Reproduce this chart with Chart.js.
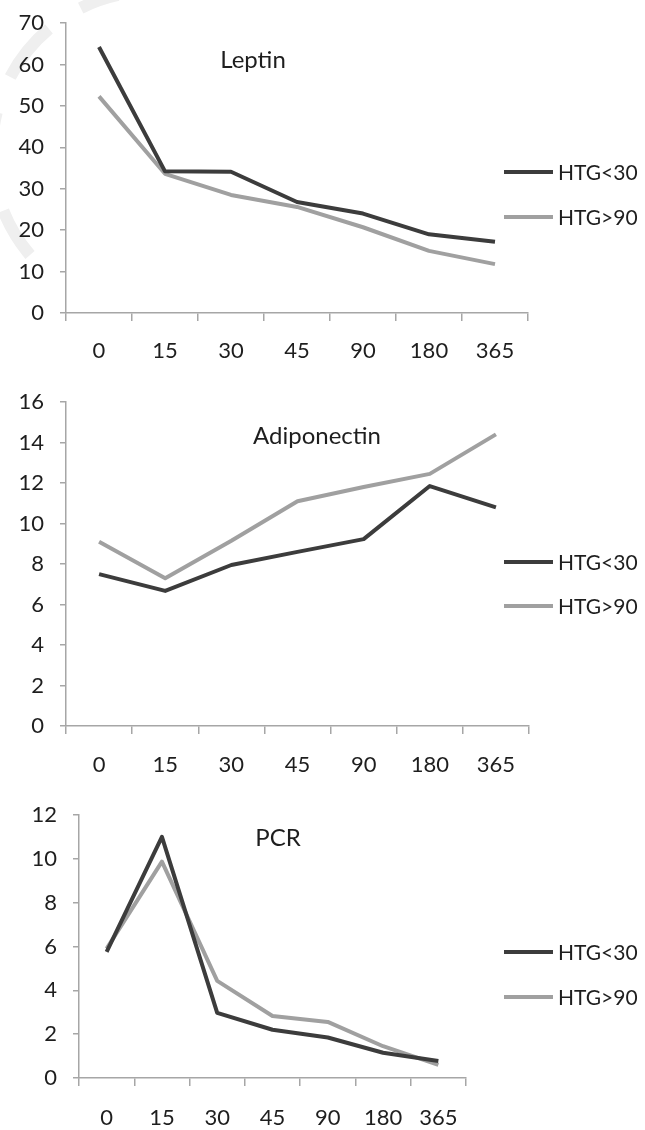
<!DOCTYPE html>
<html>
<head>
<meta charset="utf-8">
<script src="https://cdn.jsdelivr.net/npm/chart.js@4"></script>
<style>
  body { margin: 0; background: #fff; }
  #page { position: relative; width: 645px; height: 1130px; overflow: hidden; }
  #page canvas { position: absolute; left: 0; }
  #mark { position: absolute; left: 0; top: 0; }
</style>
</head>
<body>
<div id="page">
  <svg id="mark" width="200" height="300">
    <path d="M 30,255 A 160 160 0 0 1 118,-5" fill="none" stroke="#efefef" stroke-width="12"
          stroke-dasharray="62 38" stroke-dashoffset="10"/>
  </svg>
  <canvas id="leptinChart" width="645" height="392" style="top:-12px"></canvas>
  <canvas id="adipoChart" width="645" height="410" style="top:367px"></canvas>
  <canvas id="pcrChart" width="645" height="350" style="top:780px"></canvas>
</div>
<script>
// Days after surgery (categories on every x axis)
const days = ['0', '15', '30', '45', '90', '180', '365'];
const seriesNames = ['HTG<30', 'HTG>90'];

// Leptin values
const leptinLow = [64.2, 34.2, 34.1, 26.8, 24.0, 19.0, 17.2];
const leptinHigh = [52.3, 33.6, 28.5, 25.6, 20.7, 15.0, 11.8];

// Adiponectin values
const adipoLow = [7.5, 6.67, 7.95, 8.6, 9.23, 11.85, 10.8];
const adipoHigh = [9.1, 7.3, 9.15, 11.1, 11.8, 12.45, 14.4];

// PCR values
const pcrLow = [5.75, 11.0, 2.97, 2.2, 1.85, 1.15, 0.78];
const pcrHigh = [5.9, 9.87, 4.43, 2.83, 2.56, 1.45, 0.6];

const darkLine = '#3c3c3c';
const lightLine = '#a0a0a0';
const axisGrey = '#a6a6a6';
const textColor = '#1e1e1e';
const fontFamily = 'Lato, "Open Sans", sans-serif';

// Draws the panel name and the legend on the right
const panelText = {
  id: 'panelText',
  afterDraw(chart, args, opts) {
    const ctx = chart.ctx;
    ctx.save();
    ctx.fillStyle = textColor;
    ctx.textBaseline = 'middle';
    ctx.textAlign = 'center';
    ctx.font = '24px ' + fontFamily;
    ctx.fillText(opts.title, opts.titleX, opts.titleY);
    ctx.textAlign = 'left';
    ctx.font = '21px ' + fontFamily;
    chart.data.datasets.forEach((ds, i) => {
      const y = opts.legendY[i];
      ctx.strokeStyle = ds.borderColor;
      ctx.lineWidth = 4;
      ctx.beginPath();
      ctx.moveTo(504, y);
      ctx.lineTo(553, y);
      ctx.stroke();
      ctx.fillText(ds.label, 558, y + 1);
    });
    ctx.restore();
  }
};

function makeChart(canvasId, low, high, yMax, yStep, layout, text) {
  return new Chart(document.getElementById(canvasId), {
    type: 'line',
    data: {
      labels: days,
      datasets: [
        { label: seriesNames[0], data: low, borderColor: darkLine, backgroundColor: darkLine },
        { label: seriesNames[1], data: high, borderColor: lightLine, backgroundColor: lightLine }
      ]
    },
    options: {
      responsive: false,
      animation: false,
      datasets: { line: { borderWidth: 4, pointRadius: 0, tension: 0, borderJoinStyle: 'round' } },
      layout: { padding: { left: 0, top: layout.top, right: layout.right, bottom: layout.bottom } },
      plugins: {
        legend: { display: false },
        tooltip: { enabled: false },
        panelText: text
      },
      scales: {
        x: {
          offset: true,
          grid: { display: true, offset: true, drawOnChartArea: false, tickLength: 8, color: axisGrey, lineWidth: 1.5 },
          border: { color: axisGrey, width: 1.5 },
          ticks: { color: textColor, font: { family: fontFamily, size: 22 }, padding: layout.xPad, maxRotation: 0, autoSkip: false },
          afterFit(scale) { scale.height = 48; }
        },
        y: {
          min: 0,
          max: yMax,
          grid: { display: true, drawOnChartArea: false, tickLength: 6, color: axisGrey, lineWidth: 1.5 },
          border: { color: axisGrey, width: 1.5 },
          ticks: { stepSize: yStep, color: textColor, font: { family: fontFamily, size: 22 }, padding: 16 },
          afterFit(scale) { scale.width = layout.left; }
        }
      }
    },
    plugins: [panelText]
  });
}

// canvas top -12: plot area spans 23..313 on the page
makeChart('leptinChart', leptinLow, leptinHigh, 70, 10,
  { top: 35, right: 117, bottom: 19, left: 66, xPad: 17 },
  { title: 'Leptin', titleX: 253, titleY: 72, legendY: [184, 229] });

// canvas top 367: plot area spans 402..726
makeChart('adipoChart', adipoLow, adipoHigh, 16, 2,
  { top: 35, right: 116, bottom: 3, left: 66, xPad: 18 },
  { title: 'Adiponectin', titleX: 317, titleY: 69, legendY: [195, 239] });

// canvas top 780: plot area spans 815..1078
makeChart('pcrChart', pcrLow, pcrHigh, 12, 2,
  { top: 35, right: 179, bottom: 4, left: 79, xPad: 19 },
  { title: 'PCR', titleX: 278, titleY: 58, legendY: [172, 217] });
</script>
</body>
</html>
